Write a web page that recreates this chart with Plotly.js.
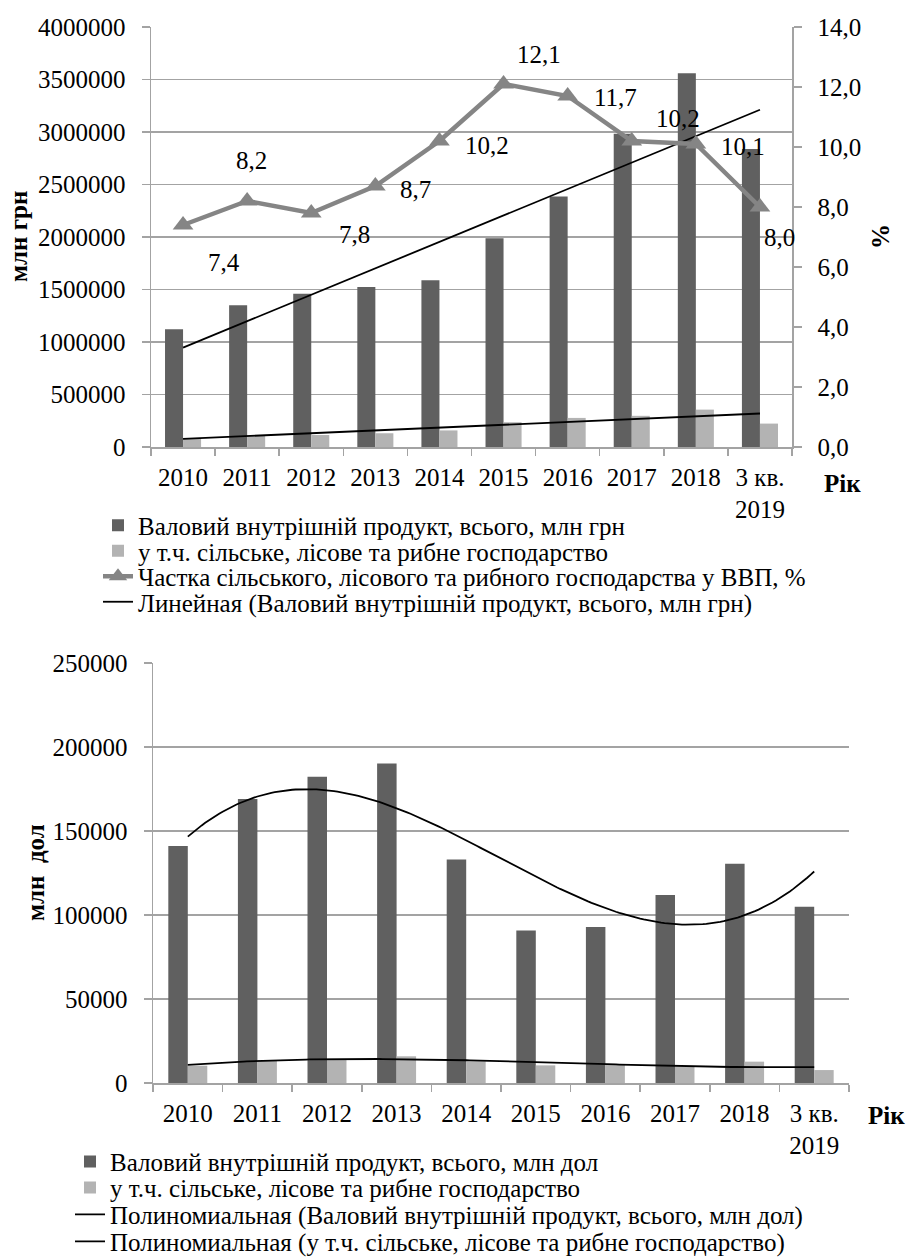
<!DOCTYPE html>
<html>
<head>
<meta charset="utf-8">
<script src="https://cdn.plot.ly/plotly-3.0.1.min.js"></script>
<style>
  html, body { margin: 0; padding: 0; background: #fff; }
  #top { position: absolute; left: 0; top: 0; width: 907px; height: 640px; }
  #bottom { position: absolute; left: 0; top: 640px; width: 907px; height: 617px; }
</style>
</head>
<body>
<div id="top"></div>
<div id="bottom"></div>
<script>
// ---------- DATA ----------
const categories = ['2010', '2011', '2012', '2013', '2014', '2015', '2016', '2017', '2018', '3 кв.<br>2019'];

// Top chart (UAH)
const gdpUah = [1120585, 1349178, 1459096, 1522657, 1586915, 1988544, 2385367, 2983882, 3558706, 2838000];
const agriUah = [83000, 108000, 114000, 131000, 158000, 236000, 277000, 297000, 356000, 223000];
const agriShare = [7.4, 8.2, 7.8, 8.7, 10.2, 12.1, 11.7, 10.2, 10.1, 8.0];

// Bottom chart (USD)
const gdpUsd = [141000, 169000, 182300, 190200, 133100, 90700, 92900, 111900, 130500, 104900];
const agriUsd = [10300, 13500, 14300, 15900, 12900, 10500, 10900, 9900, 12700, 7700];

const namesTop = [
  'Валовий внутрішній продукт, всього, млн грн',
  'у т.ч. сільське, лісове та рибне господарство',
  'Частка сільського, лісового та рибного господарства у ВВП, %',
  'Линейная (Валовий внутрішній продукт, всього, млн грн)'
];
const namesBottom = [
  'Валовий внутрішній продукт, всього, млн дол',
  'у т.ч. сільське, лісове та рибне господарство',
  'Полиномиальная (Валовий внутрішній продукт, всього, млн дол)',
  'Полиномиальная (у т.ч. сільське, лісове та рибне господарство)'
];

// ---------- STYLE ----------
const FONT = '"Liberation Serif", "Times New Roman", serif';
const FS = 25;
const DARK = '#606060', LIGHT = '#b3b3b3', SHARE = '#858585', GRID = '#a3a3a3';
// data-label offsets (pixels) for the share labels
const labelDx = [41, 4, 43, 40, 48, 35, 48, 46, 47, 20];
const labelDy = [37, -41, 21, 3, 4, -30, 1, -23, 2, 30];

// ---------- HELPERS ----------
function polyfit(xs, ys, order) {
  const n = order + 1;
  const A = [];
  for (let i = 0; i < n; i++) {
    const row = [];
    for (let j = 0; j < n; j++) {
      let s = 0; xs.forEach(x => { s += Math.pow(x, i + j); }); row.push(s);
    }
    let s = 0; xs.forEach((x, k) => { s += Math.pow(x, i) * ys[k]; }); row.push(s);
    A.push(row);
  }
  for (let i = 0; i < n; i++) {
    let p = i;
    for (let r = i + 1; r < n; r++) if (Math.abs(A[r][i]) > Math.abs(A[p][i])) p = r;
    const tmp = A[i]; A[i] = A[p]; A[p] = tmp;
    for (let r = 0; r < n; r++) {
      if (r !== i) {
        const f = A[r][i] / A[i][i];
        for (let c = i; c <= n; c++) A[r][c] -= f * A[i][c];
      }
    }
  }
  return A.map((row, i) => row[n] / row[i]);
}
function polyval(c, x) { return c.reduce((s, ci, i) => s + ci * Math.pow(x, i), 0); }
const idx = categories.map((_, i) => i - 4.5);

// ---------- TOP CHART ----------
const linGdp = polyfit(idx, gdpUah, 1);
const linAgri = polyfit(idx, agriUah, 1);
const fmt1 = v => v.toFixed(1).replace('.', ',');

const topTraces = [
  { type: 'bar', x: categories, y: gdpUah, name: namesTop[0], marker: { color: DARK }, legend: 'legend' },
  { type: 'bar', x: categories, y: agriUah, name: namesTop[1], marker: { color: LIGHT }, legend: 'legend2' },
  { type: 'scatter', mode: 'lines', x: categories, y: idx.map(x => polyval(linAgri, x)),
    line: { color: '#000', width: 1.8 }, showlegend: false },
  { type: 'scatter', mode: 'lines', x: categories, y: idx.map(x => polyval(linGdp, x)), name: namesTop[3],
    line: { color: '#000', width: 1.8 }, legend: 'legend4' },
  { type: 'scatter', mode: 'lines+markers', x: categories, y: agriShare, yaxis: 'y2', name: namesTop[2],
    line: { color: SHARE, width: 4.5 }, marker: { symbol: 'triangle-up', size: 18, color: SHARE }, legend: 'legend3' }
];

const topPlotW = 641, topPlotH = 420, topL = 151, topT = 27;
const px2xTop = px => (px - topL) / topPlotW;
const py2yTop = py => (topT + topPlotH - py) / topPlotH;

const legendBase = {
  bgcolor: 'rgba(0,0,0,0)', borderwidth: 0, xanchor: 'left', yanchor: 'middle',
  font: { family: FONT, size: FS, color: '#000' }, itemwidth: 30
};

// annotation x uses the category index (numeric) to avoid '2010' being read as index 2010
const topAnn = agriShare.map((v, i) => ({
  x: i, y: v, xref: 'x', yref: 'y2', text: fmt1(v), showarrow: false,
  xshift: labelDx[i], yshift: -labelDy[i], xanchor: 'center', yanchor: 'middle',
  font: { family: FONT, size: FS, color: '#000' }
}));
topAnn.push({ xref: 'paper', yref: 'paper', x: px2xTop(18), y: 0.5, text: '<b>млн грн</b>', textangle: -90,
  showarrow: false, xanchor: 'center', yanchor: 'middle', font: { family: FONT, size: FS, color: '#000' } });
topAnn.push({ xref: 'paper', yref: 'paper', x: px2xTop(880), y: 0.5, text: '<b>%</b>', textangle: -90,
  showarrow: false, xanchor: 'center', yanchor: 'middle', font: { family: FONT, size: FS, color: '#000' } });
topAnn.push({ xref: 'paper', yref: 'paper', x: px2xTop(842), y: py2yTop(484), text: '<b>Рік</b>',
  showarrow: false, xanchor: 'center', yanchor: 'middle', font: { family: FONT, size: FS, color: '#000' } });

const axisCommon = {
  tickfont: { family: FONT, size: FS, color: '#000' },
  showline: true, linecolor: GRID, linewidth: 1.5, ticks: 'outside', tickcolor: GRID, tickwidth: 1.5,
  zeroline: false
};

const topLayout = {
  width: 907, height: 640,
  margin: { l: topL, r: 907 - 792, t: topT, b: 640 - 447, pad: 0, autoexpand: false },
  paper_bgcolor: '#fff', plot_bgcolor: '#fff',
  separators: ', ',
  barmode: 'group', bargap: 0.4375, bargroupgap: 0,
  font: { family: FONT, size: FS, color: '#000' },
  xaxis: Object.assign({}, axisCommon, { type: 'category', tickson: 'boundaries', ticklen: 7, showgrid: false,
    range: [-0.5, 9.5], autorange: false, tickangle: 0, ticklabelstandoff: 7 }),
  yaxis: Object.assign({}, axisCommon, { range: [0, 4000000], autorange: false, dtick: 500000, tick0: 0, tickformat: 'd',
    showgrid: true, gridcolor: GRID, gridwidth: 1.5, ticklen: 8, ticklabelstandoff: 11 }),
  yaxis2: Object.assign({}, axisCommon, { overlaying: 'y', side: 'right', range: [0, 14], autorange: false, dtick: 2, tick0: 0,
    tickformat: '.1f', showgrid: false, ticklen: 8, ticklabelstandoff: 11 }),
  legend: Object.assign({}, legendBase, { x: px2xTop(98), y: py2yTop(525.5) }),
  legend2: Object.assign({}, legendBase, { x: px2xTop(98), y: py2yTop(551) }),
  legend3: Object.assign({}, legendBase, { x: px2xTop(98), y: py2yTop(576.5) }),
  legend4: Object.assign({}, legendBase, { x: px2xTop(98), y: py2yTop(602) }),
  annotations: topAnn,
  showlegend: true
};

Plotly.newPlot('top', topTraces, topLayout, { staticPlot: true, displayModeBar: false });

// ---------- BOTTOM CHART ----------
const polyGdp = polyfit(idx, gdpUsd, 3);
const polyAgri = polyfit(idx, agriUsd, 3);
const fine = [];
for (let t = 0; t <= 9.0001; t += 0.05) fine.push(t);

const botTraces = [
  { type: 'bar', x: categories, y: gdpUsd, name: namesBottom[0], marker: { color: DARK }, legend: 'legend' },
  { type: 'bar', x: categories, y: agriUsd, name: namesBottom[1], marker: { color: LIGHT }, legend: 'legend2' },
  { type: 'scatter', mode: 'lines', xaxis: 'x2', x: fine, y: fine.map(t => polyval(polyGdp, t - 4.5)),
    name: namesBottom[2], line: { color: '#000', width: 1.8 }, legend: 'legend3' },
  { type: 'scatter', mode: 'lines', xaxis: 'x2', x: fine, y: fine.map(t => polyval(polyAgri, t - 4.5)),
    name: namesBottom[3], line: { color: '#000', width: 1.8 }, legend: 'legend4' }
];

const botPlotW = 696, botPlotH = 420, botL = 153, botT = 23.3;
const px2xBot = px => (px - botL) / botPlotW;
const py2yBot = py => (botT + botPlotH - (py - 640)) / botPlotH;

const botAnn = [
  { xref: 'paper', yref: 'paper', x: px2xBot(35), y: 0.5, text: '<b>млн  дол</b>', textangle: -90,
    showarrow: false, xanchor: 'center', yanchor: 'middle', font: { family: FONT, size: FS, color: '#000' } },
  { xref: 'paper', yref: 'paper', x: px2xBot(886), y: py2yBot(1116), text: '<b>Рік</b>',
    showarrow: false, xanchor: 'center', yanchor: 'middle', font: { family: FONT, size: FS, color: '#000' } }
];

const botLayout = {
  width: 907, height: 617,
  margin: { l: botL, r: 907 - 849, t: botT, b: 617 - (botT + botPlotH), pad: 0, autoexpand: false },
  paper_bgcolor: '#fff', plot_bgcolor: '#fff',
  separators: ', ',
  barmode: 'group', bargap: 0.44, bargroupgap: 0,
  font: { family: FONT, size: FS, color: '#000' },
  xaxis: Object.assign({}, axisCommon, { type: 'category', tickson: 'boundaries', ticklen: 7, showgrid: false,
    range: [-0.5, 9.5], autorange: false, tickangle: 0, ticklabelstandoff: 7 }),
  xaxis2: { overlaying: 'x', range: [-0.5, 9.5], autorange: false, visible: false, anchor: 'y' },
  yaxis: Object.assign({}, axisCommon, { range: [0, 250000], autorange: false, dtick: 50000, tick0: 0, tickformat: 'd',
    showgrid: true, gridcolor: GRID, gridwidth: 1.5, ticklen: 8, ticklabelstandoff: 11 }),
  legend: Object.assign({}, legendBase, { x: px2xBot(70), y: py2yBot(1162) }),
  legend2: Object.assign({}, legendBase, { x: px2xBot(70), y: py2yBot(1188) }),
  legend3: Object.assign({}, legendBase, { x: px2xBot(70), y: py2yBot(1215) }),
  legend4: Object.assign({}, legendBase, { x: px2xBot(70), y: py2yBot(1242) }),
  annotations: botAnn,
  showlegend: true
};

Plotly.newPlot('bottom', botTraces, botLayout, { staticPlot: true, displayModeBar: false });
</script>
</body>
</html>
